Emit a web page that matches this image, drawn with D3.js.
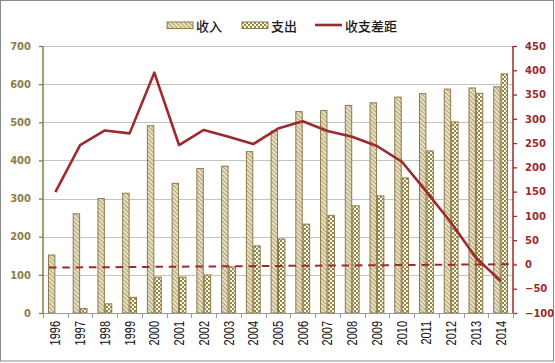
<!DOCTYPE html>
<html><head><meta charset="utf-8">
<script src="https://cdn.jsdelivr.net/npm/d3@7/dist/d3.min.js"></script>
<style>body{margin:0;background:#fff}svg{display:block}</style>
</head><body>
<svg id="c" width="555" height="363"></svg>
<script>
const years = ["1996","1997","1998","1999","2000","2001","2002","2003","2004","2005","2006","2007","2008","2009","2010","2011","2012","2013","2014"];
const income = [152,260,300,314,491,340,379,385,423,477,528,531,544,551,566,575,587,590,593];
const expenditure = [0,12,24,41,94,94,100,121,176,194,233,256,281,307,354,425,501,576,627];
const gap = [149,246,276,270,395,246,277,263,248,280,295,275,263,244,212,150,86,14,-34];
const refLine = [-6.5, 0.5];
const leftTicks = [0,100,200,300,400,500,600,700];
const rightTicks = [-100,-50,0,50,100,150,200,250,300,350,400,450];
const legendLabels = ["收入","支出","收支差距"];

const svg = d3.select("#c");
const W = 555, H = 363;
const pl = 43, pr = 513, pt = 46, pb = 313;
const olive = "#8c7b45", red = "#9e2a2d", grid = "#c4c4c4";

const defs = svg.append("defs");
const ph = defs.append("pattern").attr("id","hatch").attr("width",3).attr("height",3)
  .attr("patternUnits","userSpaceOnUse").attr("patternTransform","rotate(-45)");
ph.append("rect").attr("width",3).attr("height",3).attr("fill","#efe9d2");
ph.append("rect").attr("width",1.2).attr("height",3).attr("fill","#b0a170");
const pc = defs.append("pattern").attr("id","check").attr("width",4).attr("height",4)
  .attr("patternUnits","userSpaceOnUse");
pc.append("rect").attr("width",4).attr("height",4).attr("fill","#fbf9f0");
pc.append("rect").attr("width",2).attr("height",2).attr("fill","#978749");
pc.append("rect").attr("x",2).attr("y",2).attr("width",2).attr("height",2).attr("fill","#978749");

svg.append("rect").attr("x",0.5).attr("y",0.5).attr("width",W-2).attr("height",H-2.5)
  .attr("fill","#fff").attr("stroke","#8a8a8a");

const x = d3.scaleBand().domain(years).range([pl,pr]).paddingInner(0.4).paddingOuter(0.2);
const x1 = d3.scaleBand().domain(["income","exp"]).range([0,x.bandwidth()]);
const yL = d3.scaleLinear().domain([0,700]).range([pb,pt]);
const yR = d3.scaleLinear().domain([-100,450]).range([pb,pt]);

// gridlines
svg.append("g").selectAll("line").data(leftTicks.filter(d=>d>0)).join("line")
  .attr("x1",pl).attr("x2",pr).attr("y1",d=>Math.round(yL(d))+0.5).attr("y2",d=>Math.round(yL(d))+0.5)
  .attr("stroke",grid).attr("stroke-width",1);

// bars
const g = svg.append("g");
g.selectAll("rect.inc").data(years).join("rect").attr("class","inc")
  .attr("x",d=>x(d)+x1("income")+0.5).attr("width",x1.bandwidth()-1)
  .attr("y",(d,i)=>yL(income[i])).attr("height",(d,i)=>pb-yL(income[i]))
  .attr("fill","url(#hatch)").attr("stroke",olive).attr("stroke-width",1);
g.selectAll("rect.exp").data(years).join("rect").attr("class","exp")
  .attr("x",d=>x(d)+x1("exp")+0.5).attr("width",x1.bandwidth()-1)
  .attr("y",(d,i)=>yL(expenditure[i])).attr("height",(d,i)=>pb-yL(expenditure[i]))
  .attr("fill","url(#check)").attr("stroke",olive).attr("stroke-width",1)
  .attr("display",(d,i)=>expenditure[i]>0?null:"none");

// dashed reference line
svg.append("line").attr("x1",pl+6).attr("x2",pr+2)
  .attr("y1",yR(refLine[0])).attr("y2",yR(refLine[1]))
  .attr("stroke",red).attr("stroke-width",2).attr("stroke-dasharray","7.5,5.8");

// gap line
svg.append("path").datum(gap)
  .attr("d",d3.line().x((d,i)=>x(years[i])+x.bandwidth()/2).y(d=>yR(d)))
  .attr("fill","none").attr("stroke",red).attr("stroke-width",2.6).attr("stroke-linejoin","round");

// left axis
const la = svg.append("g").attr("transform",`translate(${pl},0)`)
  .call(d3.axisLeft(yL).tickValues(leftTicks).tickSize(4).tickPadding(8));
la.select(".domain").attr("stroke",olive).attr("stroke-width",1.5).attr("d",`M0,${pt}V${pb}`);
la.selectAll(".tick line").attr("stroke",olive).attr("stroke-width",1.3);
la.selectAll("text").attr("fill","#8c7c48").attr("font-family","DejaVu Sans").attr("font-size","10px").attr("font-weight","bold");

// right axis
const ra = svg.append("g").attr("transform",`translate(${pr},0)`)
  .call(d3.axisRight(yR).tickValues(rightTicks).tickSize(4).tickPadding(8));
ra.select(".domain").attr("stroke",red).attr("stroke-width",1.5).attr("d",`M0,${pt}V${pb}`);
ra.selectAll(".tick line").attr("stroke",red).attr("stroke-width",1.3);
ra.selectAll("text").attr("fill","#a0282c").attr("font-family","DejaVu Sans").attr("font-size","10px").attr("font-weight","bold");

// bottom axis
const bg = svg.append("g");
bg.append("line").attr("x1",pl).attr("x2",pr).attr("y1",pb+0.5).attr("y2",pb+0.5).attr("stroke","#9a9a9a").attr("stroke-width",1.2);
const bounds = years.map(d=>x(d)-x.step()*x.paddingInner()/2).concat([pr]);
bg.selectAll("line.t").data(bounds).join("line").attr("class","t")
  .attr("x1",d=>Math.round(d)+0.5).attr("x2",d=>Math.round(d)+0.5).attr("y1",pb).attr("y2",pb+5)
  .attr("stroke","#9a9a9a");
bg.selectAll("text").data(years).join("text")
  .attr("transform",d=>`translate(${x(d)+x.bandwidth()/2+5},${pb+8}) scale(1.35,1) rotate(-90)`)
  .attr("text-anchor","end").attr("font-family","Liberation Sans, Arial").attr("font-size","11px")
  .attr("fill","#111").text(d=>d);

// legend
const lg = svg.append("g");
lg.append("rect").attr("x",167).attr("y",22).attr("width",26).attr("height",6.5).attr("fill","url(#hatch)").attr("stroke",olive);
lg.append("rect").attr("x",242).attr("y",22).attr("width",26).attr("height",6.5).attr("fill","url(#check)").attr("stroke",olive);
lg.append("line").attr("x1",315).attr("x2",342).attr("y1",25).attr("y2",25).attr("stroke",red).attr("stroke-width",2.6);
const lx = [196,271,345];
lg.selectAll("text").data(legendLabels).join("text")
  .attr("x",(d,i)=>lx[i]).attr("y",30.5).attr("font-family","Noto Sans CJK SC").attr("font-size","13px")
  .attr("font-weight","500").attr("fill","#1a1a1a").text(d=>d);
</script>
</body></html>
